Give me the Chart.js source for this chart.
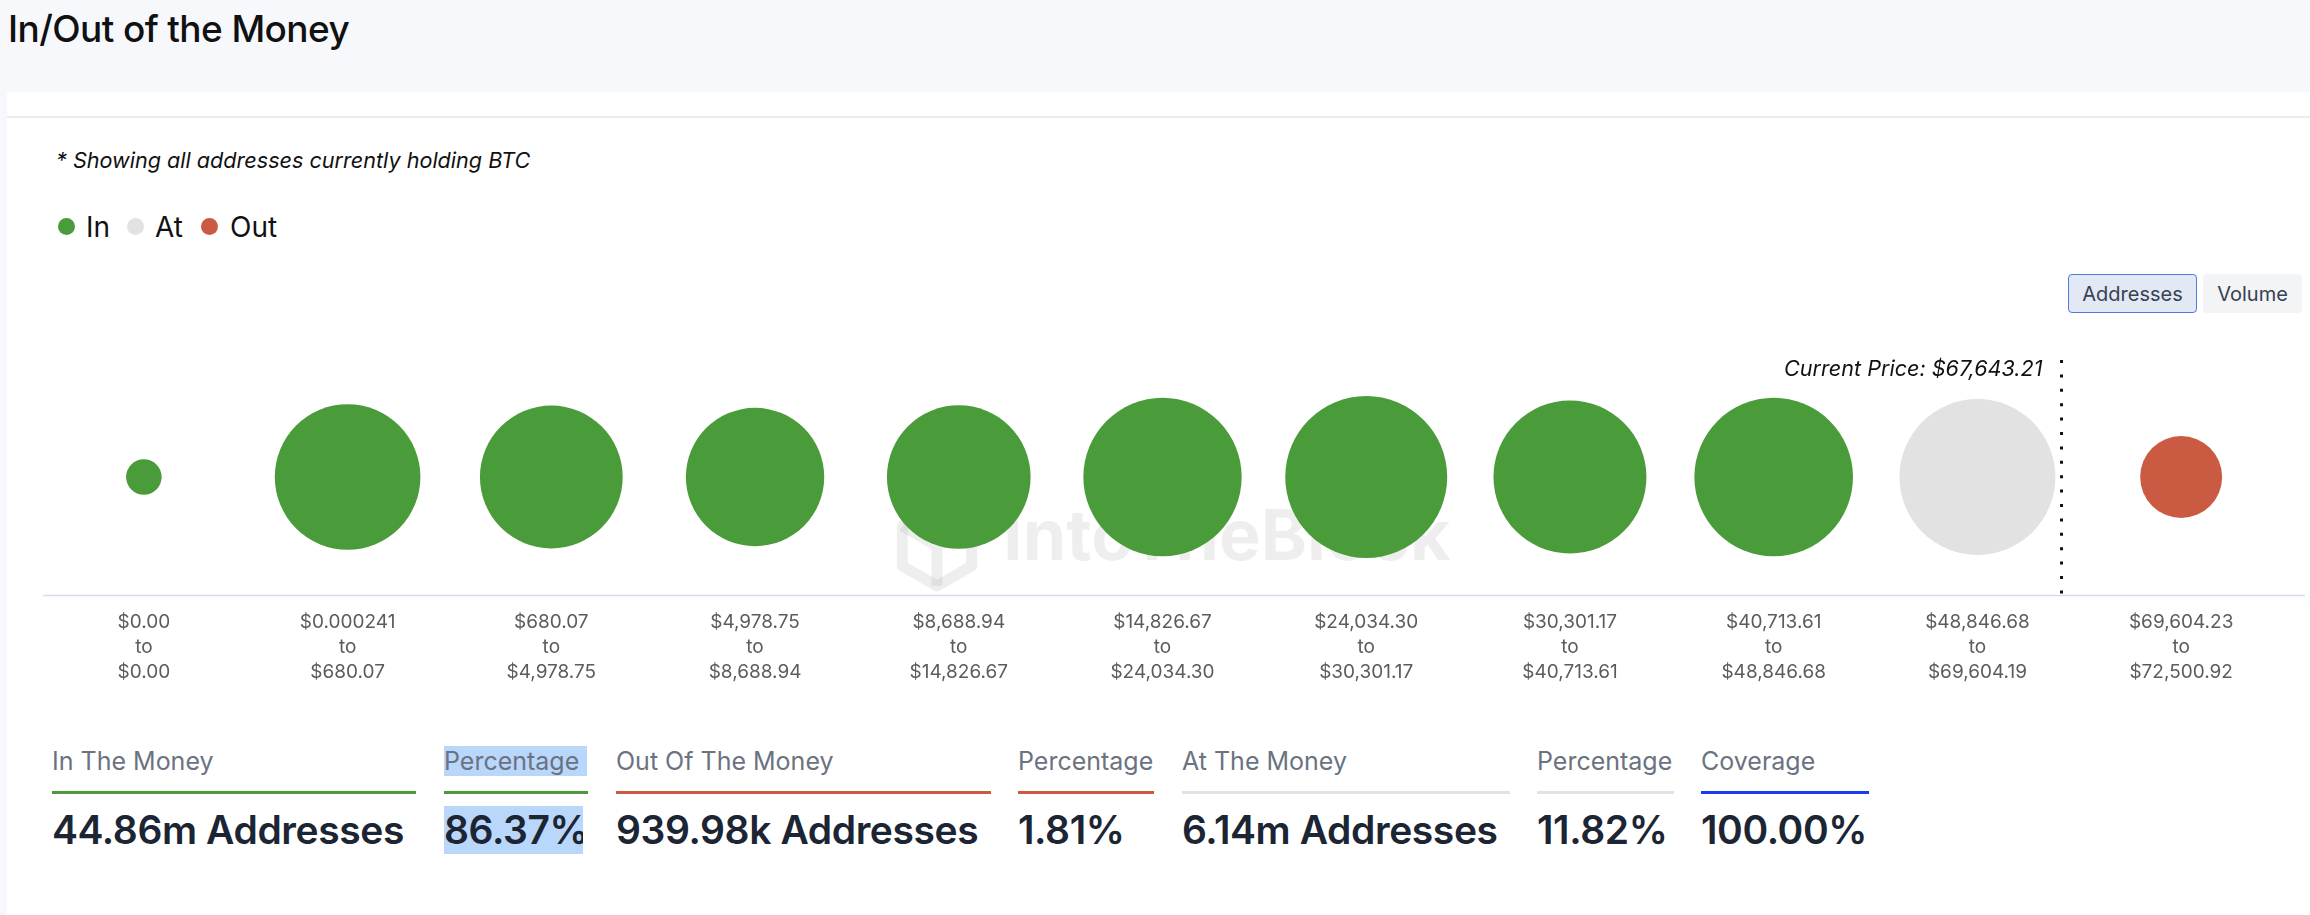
<!DOCTYPE html>
<html>
<head>
<meta charset="utf-8">
<script src="https://cdn.jsdelivr.net/npm/chart.js@4/dist/chart.umd.min.js"></script>
<style>
  html, body { margin: 0; padding: 0; }
  body {
    width: 2310px; height: 915px; position: relative; overflow: hidden;
    background: #f7f8fc; font-family: Inter, "Noto Sans", sans-serif; color: #111;
  }
  .abs { position: absolute; }
  .title { left: 8px; top: 7px; font-size: 37px; font-weight: 500; letter-spacing: -0.6px; line-height: 44px; }
  .card { left: 7px; top: 92px; right: 0; bottom: 0; background: #fff; }
  .rule { left: 7px; right: 0; top: 116px; height: 2px; background: #ececec; }
  .note { left: 56px; top: 148px; font-size: 21.6px; line-height: 24px; font-style: italic; }
  .dot { width: 17px; height: 17px; border-radius: 50%; top: 218px; }
  .leg { top: 211px; font-size: 28px; line-height: 32px; }
  .btn { top: 274px; height: 39px; box-sizing: border-box; border-radius: 4px; font-size: 20px;
         color: #374151; display: flex; align-items: center; justify-content: center; }
  #chart { left: 0; top: 330px; }
  .col { top: 746px; }
  .col .lab { font-size: 25px; line-height: 30px; color: #6b7280; height: 30px; white-space: nowrap; }
  .col .bar { margin-top: 15px; height: 3px; }
  .col .val { margin-top: 12px; font-size: 39px; line-height: 48px; font-weight: 600; color: #1c2533; white-space: nowrap; letter-spacing: -0.4px; }
  .sel { background: #b9d6fb; }
</style>
</head>
<body>
<div class="abs title">In/Out of the Money</div>
<div class="abs card"></div>
<div class="abs rule"></div>
<div class="abs note">* Showing all addresses currently holding BTC</div>

<div class="abs dot" style="left:58px;background:#4a9b3a"></div>
<div class="abs leg" style="left:86px">In</div>
<div class="abs dot" style="left:127px;background:#e2e2e2"></div>
<div class="abs leg" style="left:155px">At</div>
<div class="abs dot" style="left:201px;background:#cb5a42"></div>
<div class="abs leg" style="left:230px">Out</div>

<div class="abs btn" style="left:2068px;width:129px;background:#e3e8f5;border:1.5px solid #4f78e0">Addresses</div>
<div class="abs btn" style="left:2203px;width:99px;background:#f3f4f6">Volume</div>

<canvas id="chart" class="abs" width="2310" height="380" style="width:2310px;height:380px"></canvas>

<div id="stats"></div>

<script>
// price buckets (low / high bound labels)
const lowLabels = ["$0.00", "$0.000241", "$680.07", "$4,978.75", "$8,688.94", "$14,826.67",
  "$24,034.30", "$30,301.17", "$40,713.61", "$48,846.68", "$69,604.23"];
const highLabels = ["$0.00", "$680.07", "$4,978.75", "$8,688.94", "$14,826.67", "$24,034.30",
  "$30,301.17", "$40,713.61", "$48,846.68", "$69,604.19", "$72,500.92"];
// addresses per bucket, millions
const addressesM = [0.0006, 5.14, 4.88, 4.49, 4.96, 6.38, 6.76, 5.84, 6.41, 6.14, 0.94];
const status = ["in", "in", "in", "in", "in", "in", "in", "in", "in", "at", "out"];
const currentPrice = 67643.21;

// summary row
const statLabels = ["In The Money", "Percentage", "Out Of The Money", "Percentage", "At The Money", "Percentage", "Coverage"];
const statValues = ["44.86m Addresses", "86.37%", "939.98k Addresses", "1.81%", "6.14m Addresses", "11.82%", "100.00%"];

const colors = { in: "#4a9b3a", at: "#e2e2e2", out: "#cb5a42" };
const statColors = [colors.in, colors.in, colors.out, colors.out, colors.at, colors.at, "#1a3cf0"];
const statLeft = [52, 444, 616, 1018, 1182, 1537, 1701];
const statWidth = [364, 144, 375, 136, 328, 137, 168];

const stats = document.getElementById("stats");
statLabels.forEach((lab, i) => {
  const col = document.createElement("div");
  col.className = "abs col";
  col.style.left = statLeft[i] + "px";
  col.style.width = statWidth[i] + "px";
  const sel = i === 1;
  col.innerHTML =
    '<div class="lab"><span class="' + (sel ? "sel" : "") + '" style="display:inline-block;' + (sel ? "width:143px" : "") + '">' + lab + "</span></div>" +
    '<div class="bar" style="background:' + statColors[i] + '"></div>' +
    '<div class="val"><span class="' + (sel ? "sel" : "") + '" style="display:inline-block;' + (sel ? "width:139px;overflow:hidden" : "") + '">' + statValues[i] + "</span></div>";
  stats.appendChild(col);
});

function radiusFor(m) {
  return 17.2 + 0.02453 * Math.sqrt(m * 1e6);
}
function num(s) {
  return parseFloat(s.replace(/[$,]/g, ""));
}

const tickLabels = lowLabels.map((l, i) => [l, "to", highLabels[i]]);
const points = addressesM.map((m, i) => ({ x: i, y: 0, r: radiusFor(m) }));

const overlay = {
  id: "overlay",
  beforeDatasetsDraw(chart) {
    const ctx = chart.ctx;
    ctx.save();
    ctx.fillStyle = "rgba(0,0,0,0.065)";
    ctx.strokeStyle = "rgba(0,0,0,0.065)";
    ctx.font = "bold 70px Inter, sans-serif";
    ctx.textBaseline = "alphabetic";
    ctx.fillText("IntoTheBlock", 1003, 230);
    // logo: outlined cube
    ctx.lineWidth = 11;
    ctx.lineJoin = "round";
    const cx = 937, cy = 216, s = 40;
    const pt = (k) => [cx + s * Math.cos(-Math.PI / 2 + k * Math.PI / 3), cy + s * Math.sin(-Math.PI / 2 + k * Math.PI / 3)];
    ctx.beginPath();
    for (let k = 0; k < 6; k++) {
      const [px, py] = pt(k);
      if (k === 0) ctx.moveTo(px, py); else ctx.lineTo(px, py);
    }
    ctx.closePath();
    ctx.stroke();
    ctx.beginPath();
    ctx.moveTo(...pt(5));
    ctx.lineTo(cx, cy);
    ctx.lineTo(...pt(1));
    ctx.moveTo(cx, cy);
    ctx.lineTo(...pt(3));
    ctx.stroke();
    ctx.restore();
  },
  afterDatasetsDraw(chart) {
    const ctx = chart.ctx;
    const area = chart.chartArea;
    const xs = chart.scales.x;
    ctx.save();
    // axis line
    ctx.strokeStyle = "#d6dcef";
    ctx.lineWidth = 1.5;
    ctx.beginPath();
    ctx.moveTo(43, area.bottom);
    ctx.lineTo(2305, area.bottom);
    ctx.stroke();

    // current price marker
    let idx = lowLabels.findIndex((l, i) => currentPrice >= num(l) && currentPrice <= num(highLabels[i]));
    const lo = num(lowLabels[idx]), hi = num(highLabels[idx]);
    const frac = (currentPrice - lo) / (hi - lo);
    const step = xs.getPixelForValue(1) - xs.getPixelForValue(0);
    const px = xs.getPixelForValue(idx) + (frac - 0.5) * step + 1.5;
    ctx.strokeStyle = "#111";
    ctx.lineWidth = 3;
    ctx.setLineDash([3, 11.4]);
    ctx.beginPath();
    ctx.moveTo(px, area.top + 1.5);
    ctx.lineTo(px, area.bottom);
    ctx.stroke();
    ctx.setLineDash([]);

    ctx.fillStyle = "#111";
    ctx.font = "italic 21.6px Inter, sans-serif";
    ctx.textAlign = "right";
    ctx.textBaseline = "middle";
    ctx.fillText("Current Price: $" + currentPrice.toLocaleString("en-US", { minimumFractionDigits: 2 }), px - 19, 39);
    ctx.restore();
  }
};

new Chart(document.getElementById("chart"), {
  type: "bubble",
  data: {
    labels: tickLabels,
    datasets: [{
      data: points,
      backgroundColor: status.map((s) => colors[s]),
      borderWidth: 0,
      hoverBorderWidth: 0,
      clip: false,
    }],
  },
  options: {
    responsive: false,
    animation: false,
    devicePixelRatio: 1,
    layout: { autoPadding: false, padding: { left: 42, right: 27, top: 28.5, bottom: 0 } },
    plugins: { legend: { display: false }, tooltip: { enabled: false } },
    scales: {
      x: {
        type: "category",
        offset: true,
        grid: { display: false, drawTicks: false },
        border: { display: false },
        ticks: {
          autoSkip: false,
          maxRotation: 0,
          padding: 14,
          color: "#5c5c5c",
          font: { family: "Inter, sans-serif", size: 19, lineHeight: 1.32 },
        },
        afterFit(scale) { scale.height = 114.5; },
      },
      y: { display: false, min: -1, max: 1 },
    },
  },
  plugins: [overlay],
});
</script>
</body>
</html>
